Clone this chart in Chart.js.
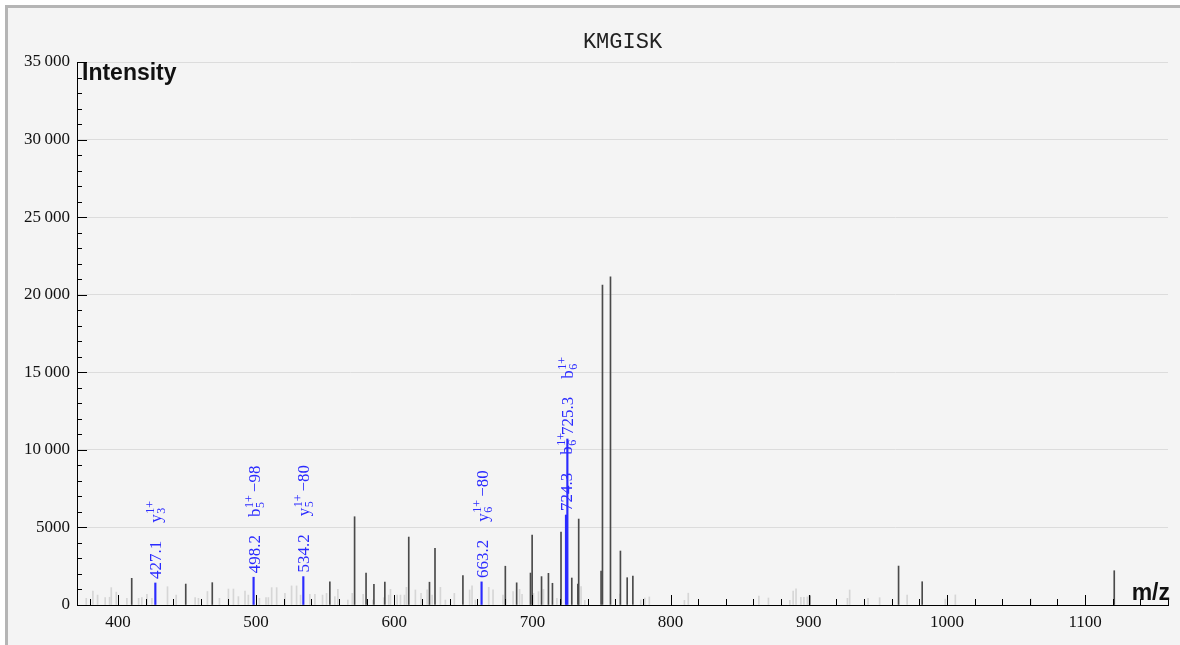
<!DOCTYPE html>
<html><head><meta charset="utf-8">
<script src="https://cdn.jsdelivr.net/npm/chart.js@4.4.1/dist/chart.umd.min.js"></script>
<style>html,body{margin:0;padding:0;background:#fff;}canvas{display:block}</style>
</head><body>
<canvas id="c" width="1180" height="645"></canvas>
<script>
// ---- data ----
const titleText = 'KMGISK';
const xTicks = [400, 500, 600, 700, 800, 900, 1000, 1100];
const yTicks = [0, 5000, 10000, 15000, 20000, 25000, 30000, 35000];

// annotated (matched) peaks
const labeledMz  = [427.1, 498.2, 534.2, 663.2, 724.3, 725.3];
const labeledInt = [1420, 1790, 1830, 1490, 5800, 10700];
const ionBase = ['y', 'b', 'y', 'y', 'b', 'b'];
const ionSub  = ['3', '5', '5', '6', '6', '6'];
const ionSup  = ['1+', '1+', '1+', '1+', '1+', '1+'];
const ionLoss = ['', '\u221298', '\u221280', '\u221280', '', ''];

// unannotated dark peaks
const darkMz  = [410.0, 449.1, 468.3, 553.4, 571.3, 579.6, 585.3, 593.2, 610.5, 625.5, 629.5, 649.7, 680.4, 688.6, 698.6, 699.8, 706.6, 711.6, 714.5, 720.7, 728.5, 732.9, 733.5, 749.7, 750.7, 756.5, 763.7, 768.6, 772.7, 900.7, 965.0, 982.1, 1121.1];
const darkInt = [1720, 1350, 1440, 1500, 5690, 2060, 1330, 1470, 4380, 1470, 3650, 1900, 2500, 1430, 2060, 4510, 1830, 2040, 1400, 4700, 1740, 1350, 5540, 2190, 20620, 21150, 3480, 1760, 1860, 600, 2510, 1500, 2210];

// noise peaks (light grey)
const noiseMz  = [377.1, 381.9, 385.3, 390.8, 394.0, 395.2, 398.8, 406.5, 415.0, 417.3, 421.0, 424.6, 435.9, 442.2, 455.9, 458.3, 464.8, 473.5, 480.0, 483.6, 487.2, 492.0, 494.4, 502.4, 507.2, 508.9, 511.3, 514.9, 520.9, 525.7, 529.3, 532.2, 538.9, 542.6, 548.1, 551.0, 557.0, 559.2, 566.4, 569.6, 577.5, 584.5, 592.4, 596.0, 597.3, 602.1, 604.5, 607.4, 608.8, 615.3, 619.4, 623.8, 627.4, 633.4, 637.0, 643.5, 654.6, 656.3, 658.7, 668.4, 671.5, 678.7, 686.0, 690.7, 692.5, 700.8, 704.4, 708.0, 717.7, 735.2, 737.9, 763.3, 778.4, 781.3, 784.6, 810.0, 812.8, 863.9, 870.8, 886.3, 888.7, 890.8, 894.3, 896.5, 899.0, 928.0, 929.6, 942.9, 951.3, 971.2, 998.8, 1006.1, 1060.7];
const noiseInt = [430, 900, 640, 480, 500, 1120, 830, 430, 430, 480, 680, 430, 1180, 640, 480, 430, 870, 430, 1030, 1030, 540, 900, 640, 430, 480, 480, 1120, 1120, 750, 1230, 1230, 640, 690, 690, 640, 750, 540, 1010, 320, 750, 690, 320, 470, 640, 1010, 640, 640, 640, 1140, 970, 750, 970, 640, 1140, 320, 750, 970, 1230, 320, 1140, 970, 640, 860, 1010, 690, 750, 860, 1010, 430, 1180, 300, 700, 320, 450, 520, 300, 760, 580, 450, 300, 900, 1050, 500, 500, 520, 430, 970, 430, 470, 640, 380, 650, 400];

const xMin = 370.4, xMax = 1160, yMax = 35000;

// ---- helpers ----
const pts = (xs, ys) => xs.map((x, i) => ({ x: x, y: ys[i] }));
const fmtY = v => v >= 10000 ? String(v).slice(0, -3) + '\u2009' + String(v).slice(-3) : String(v);
const BLUE = '#2b2bff';
const SERIF = '"Liberation Serif", "DejaVu Serif", serif';

const bgPlugin = {
  id: 'bg',
  beforeDraw(chart) {
    const ctx = chart.ctx;
    ctx.save();
    ctx.fillStyle = '#ffffff';
    ctx.fillRect(0, 0, chart.width, chart.height);
    ctx.fillStyle = '#f4f4f4';
    ctx.fillRect(8, 8, chart.width - 8, chart.height - 8);
    ctx.fillStyle = '#b5b5b5';
    ctx.fillRect(5, 5, 3, chart.height - 5);
    ctx.fillRect(5, 5, chart.width - 5, 3);
    ctx.restore();
  }
};

const decoPlugin = {
  id: 'deco',
  afterDatasetsDraw(chart) {
    const ctx = chart.ctx;
    const xs = chart.scales.x, ys = chart.scales.y;
    const ca = chart.chartArea;
    ctx.save();
    // inner ticks
    ctx.strokeStyle = '#000';
    ctx.lineWidth = 1;
    ctx.beginPath();
    for (let v = 0; v <= yMax; v += 1000) {
      const py = Math.round(ys.getPixelForValue(v)) + 0.5;
      const len = v % 5000 === 0 ? 10 : 5;
      ctx.moveTo(ca.left, py); ctx.lineTo(ca.left + len, py);
    }
    for (let v = 380; v <= xMax; v += 20) {
      const px = Math.round(xs.getPixelForValue(v)) + 0.5;
      const len = v % 100 === 0 ? 10 : 6;
      ctx.moveTo(px, ca.bottom); ctx.lineTo(px, ca.bottom - len);
    }
    ctx.stroke();

    // axis titles
    ctx.fillStyle = '#111';
    ctx.font = 'bold 23px "Liberation Sans", Arial, sans-serif';
    ctx.textBaseline = 'alphabetic';
    ctx.textAlign = 'left';
    ctx.fillText('Intensity', ca.left + 5, ca.top + 18);
    ctx.textAlign = 'right';
    ctx.fillText('m/z', ca.right + 2, ca.bottom - 5);

    // peak annotations
    ctx.fillStyle = BLUE;
    labeledMz.forEach((mz, i) => {
      const px = xs.getPixelForValue(mz);
      const top = ys.getPixelForValue(labeledInt[i]);
      ctx.save();
      ctx.translate(px, top - 4);
      ctx.rotate(-Math.PI / 2);
      ctx.textAlign = 'left';
      ctx.textBaseline = 'alphabetic';
      ctx.font = '17px ' + SERIF;
      const massTxt = mz.toFixed(1);
      ctx.fillText(massTxt, 0, 6);
      let cx = ctx.measureText(massTxt).width + 18;
      // ion label
      ctx.font = '17px ' + SERIF;
      ctx.fillText(ionBase[i], cx, 6);
      cx += ctx.measureText(ionBase[i]).width + 0.5;
      ctx.font = '12px ' + SERIF;
      ctx.fillText(ionSup[i], cx, -1);
      ctx.fillText(ionSub[i], cx, 10);
      cx += Math.max(ctx.measureText(ionSup[i]).width, ctx.measureText(ionSub[i]).width);
      if (ionLoss[i]) {
        ctx.font = '17px ' + SERIF;
        ctx.fillText(ionLoss[i], cx + 3, 6);
      }
      ctx.restore();
    });
    ctx.restore();
  }
};

new Chart(document.getElementById('c'), {
  type: 'bar',
  data: {
    datasets: [
      { data: pts(labeledMz, labeledInt), backgroundColor: BLUE, barThickness: 1.5, grouped: false },
      { data: pts(darkMz, darkInt), backgroundColor: '#4a4a4a', barThickness: 1, grouped: false },
      { data: pts(noiseMz, noiseInt), backgroundColor: '#d6d6d6', barThickness: 1, grouped: false }
    ]
  },
  options: {
    responsive: false,
    devicePixelRatio: 1,
    animation: false,
    layout: { padding: { left: 7, right: 12, top: 0, bottom: 0 } },
    plugins: {
      legend: { display: false },
      tooltip: { enabled: false },
      title: {
        display: true,
        text: titleText,
        fullSize: false,
        color: '#222',
        font: { family: '"Liberation Mono", "DejaVu Sans Mono", monospace', size: 22, weight: 'normal', lineHeight: 1.2 },
        padding: { top: 28.8, bottom: 6.8 }
      }
    },
    scales: {
      x: {
        type: 'linear',
        min: xMin, max: xMax,
        offset: false,
        afterFit: s => { s.height = 40; },
        afterBuildTicks: s => { s.ticks = xTicks.map(v => ({ value: v })); },
        grid: { display: false, drawTicks: false },
        border: { display: true, color: '#000', width: 1 },
        ticks: { color: '#111', padding: 7, maxRotation: 0, autoSkip: false,
                 font: { family: SERIF, size: 17 }, callback: v => String(v) }
      },
      y: {
        type: 'linear',
        min: 0, max: yMax,
        afterFit: s => { s.width = 70; },
        afterBuildTicks: s => { s.ticks = yTicks.map(v => ({ value: v })); },
        grid: { color: '#dcdcdc', drawTicks: false, lineWidth: 1 },
        border: { display: true, color: '#000', width: 1 },
        ticks: { color: '#111', padding: 7, autoSkip: false,
                 font: { family: SERIF, size: 17 }, callback: v => fmtY(v) }
      }
    }
  },
  plugins: [bgPlugin, decoPlugin]
});
</script>
</body></html>
